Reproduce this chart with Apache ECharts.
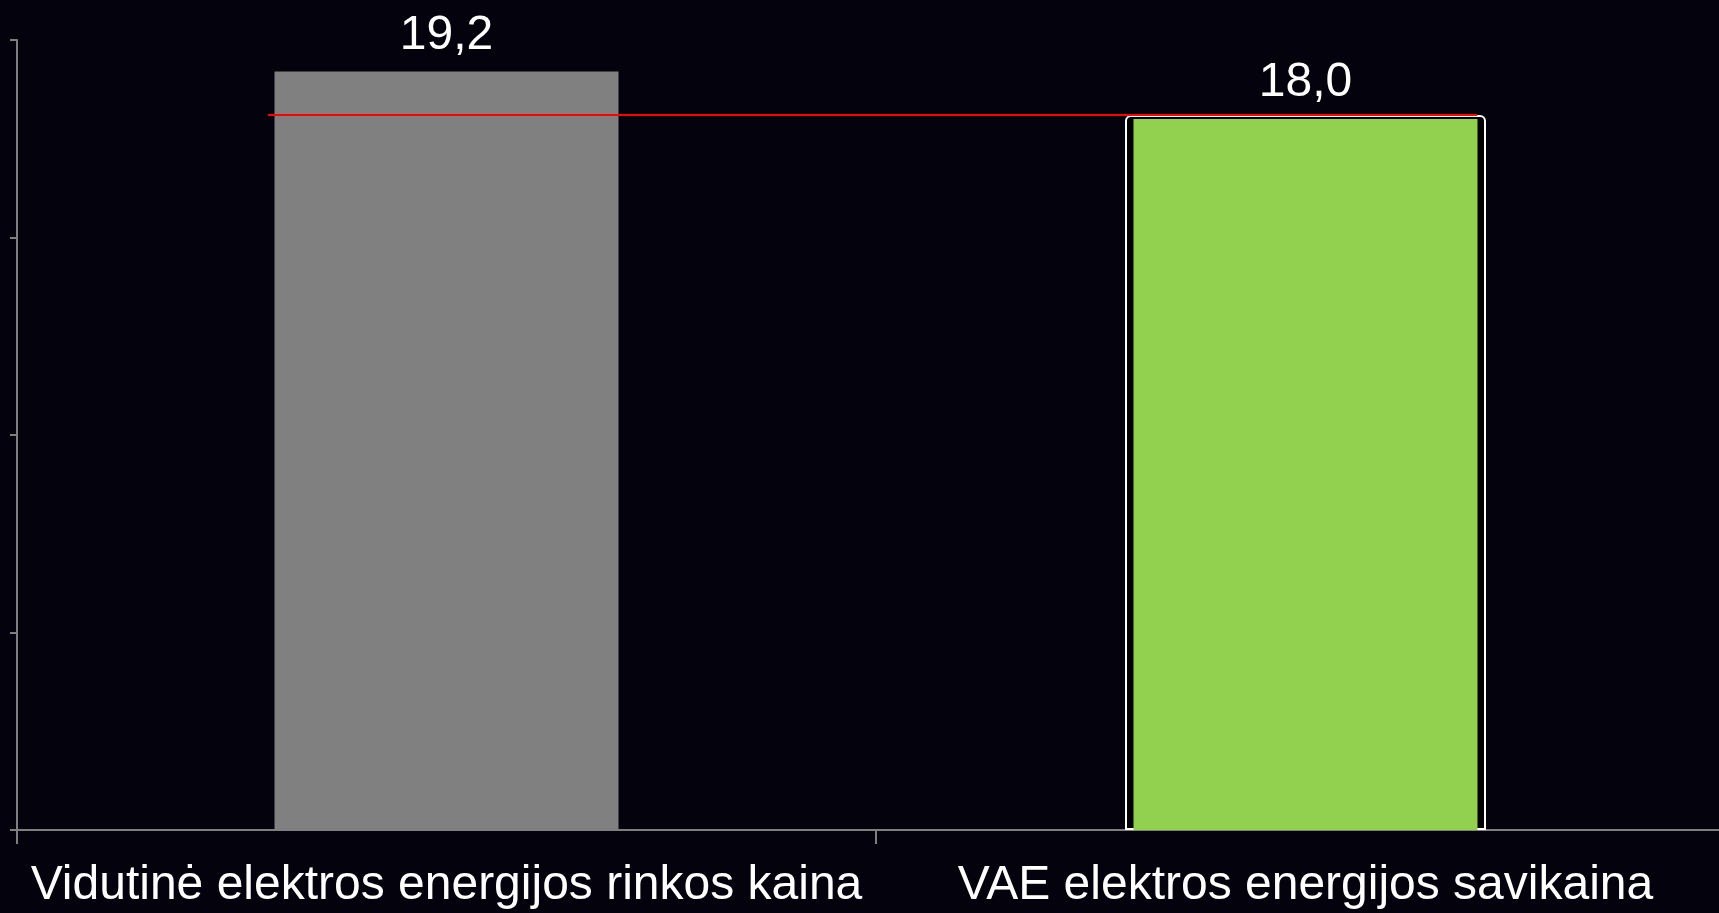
<!DOCTYPE html>
<html>
<head>
<meta charset="utf-8">
<title>Elektros energijos kaina ir savikaina</title>
<script src="https://cdn.jsdelivr.net/npm/echarts@6/dist/echarts.min.js"></script>
<style>
  html, body { margin: 0; padding: 0; background: #04020d; overflow: hidden; }
  /* the plot area runs slightly past the right edge of the window */
  #chart { width: 1735px; height: 913px; }
</style>
</head>
<body>
<div id="chart"></div>
<script>
// Categories and values
const categories = ['Vidutinė elektros energijos rinkos kaina', 'VAE elektros energijos savikaina'];
const values = [19.2, 18.0];
const barColors = ['#808080', '#92D050'];

// Highlight frame around the second bar and the red reference level
const frameValues = ['-', 18.1];
const refLevel = 18.1;
const refSpan = [0.292, 1.70]; // in category units along the axis

// Value axis range
const yMin = 0, yMax = 20, yInterval = 5;

const fmt = v => v.toFixed(1).replace('.', ',');

const chart = echarts.init(document.getElementById('chart'), null, { renderer: 'canvas' });

const axisGray = '#7f7f7f';
const font = "'Liberation Sans', Arial, sans-serif";

chart.setOption({
  backgroundColor: '#04020d',
  animation: false,
  grid: { left: 17, right: 0, top: 40, bottom: 83, containLabel: false },
  xAxis: [
    {
      type: 'category',
      data: categories,
      boundaryGap: true,
      axisLine: { show: true, lineStyle: { color: axisGray, width: 2 } },
      axisTick: { show: true, length: 14, lineStyle: { color: axisGray, width: 2 } },
      axisLabel: {
        color: '#ffffff', fontSize: 48, fontFamily: font, margin: 32,
        lineHeight: 48, interval: 0
      },
      splitLine: { show: false }
    },
    { type: 'category', data: categories, show: false },
    { type: 'value', min: 0, max: 2, show: false }
  ],
  yAxis: {
    type: 'value',
    min: yMin, max: yMax, interval: yInterval,
    axisLine: { show: true, lineStyle: { color: axisGray, width: 2 } },
    axisTick: { show: true, length: 7, lineStyle: { color: axisGray, width: 2 } },
    axisLabel: { show: false },
    splitLine: { show: false }
  },
  series: [
    {
      // black frame with a thin white outline behind the second bar
      type: 'bar',
      xAxisIndex: 1,
      data: frameValues,
      barWidth: 361,
      z: 1,
      itemStyle: { color: '#000000', borderColor: '#ffffff', borderWidth: 2, borderRadius: [5, 5, 0, 0] },
      silent: true
    },
    {
      type: 'bar',
      xAxisIndex: 0,
      data: values.map((v, i) => ({ value: v, itemStyle: { color: barColors[i] } })),
      barWidth: 344,
      z: 2,
      label: {
        show: true,
        position: 'top',
        distance: 12,
        color: '#ffffff',
        fontSize: 48,
        fontFamily: font,
        lineHeight: 48,
        formatter: p => fmt(p.value)
      }
    },
    {
      type: 'line',
      xAxisIndex: 2,
      data: refSpan.map(x => [x, refLevel]),
      symbol: 'none',
      z: 5,
      lineStyle: { color: '#ff0000', width: 2 },
      silent: true
    }
  ]
});
</script>
</body>
</html>
